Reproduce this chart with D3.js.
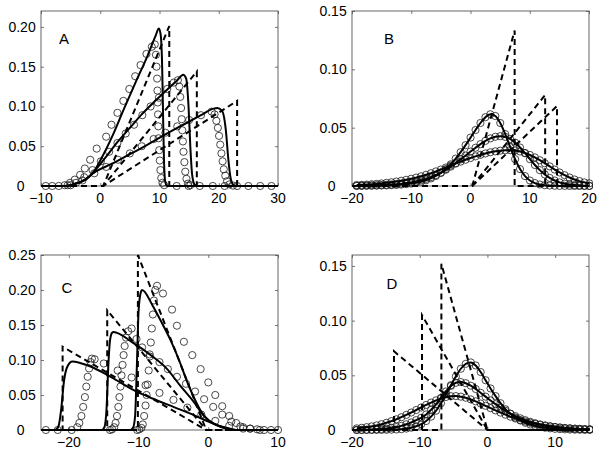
<!DOCTYPE html>
<html><head><meta charset="utf-8">
<script src="https://cdn.jsdelivr.net/npm/d3@7"></script>
<style>body{margin:0;background:#fff} svg{display:block} text{font-family:"Liberation Sans",Arial,sans-serif;fill:#000}</style>
</head><body><svg id="c" width="601" height="454"></svg>
<script>
// ---------- Panel A ----------
const aXTicks = [-10, 0, 10, 20, 30];
const aYTicks = [0, 0.05, 0.10, 0.15, 0.20];
const aSolid1 = [[-10,0],[-6,0],[-4.5,0.002],[-3,0.006],[-2,0.011],[-1.2,0.017],[0,0.032],[2,0.062],[4,0.097],[6,0.131],[8,0.164],[9.3,0.188],[9.9,0.198],[10.2,0.19],[10.45,0.15],[10.6,0.09],[10.75,0.035],[10.95,0.006],[11.3,0],[30,0]];
const aSolid2 = [[-10,0],[-6,0],[-4.5,0.002],[-3,0.006],[-2,0.011],[-1.2,0.017],[1,0.037],[3,0.056],[5,0.073],[7,0.09],[9,0.105],[11,0.119],[13,0.133],[14,0.14],[14.5,0.135],[14.9,0.1],[15.2,0.05],[15.5,0.015],[15.9,0.002],[16.3,0],[30,0]];
const aSolid3 = [[-10,0],[-6,0],[-4.5,0.002],[-3,0.006],[-2,0.011],[-1.2,0.016],[2,0.028],[5,0.04],[8,0.052],[11,0.065],[14,0.077],[17,0.089],[19,0.097],[19.8,0.098],[20.6,0.094],[21.2,0.07],[21.6,0.035],[22,0.01],[22.5,0.001],[23,0],[30,0]];
const aDash1 = [[-10,0],[0.5,0],[11.65,0.201],[11.65,0],[30,0]];
const aDash2 = [[-10,0],[0.5,0],[16.3,0.144],[16.3,0],[30,0]];
const aDash3 = [[-10,0],[0.5,0],[23.1,0.107],[23.1,0],[30,0]];
const aCirc1 = [[-9.2,0],[-8.1,0],[-7,0],[-6,0.001],[-5.1,0.004],[-4.3,0.008],[-3.4,0.014],[-2.6,0.022],[-1.7,0.033],[-0.6,0.047],[1,0.062],[1.9,0.077],[2.9,0.092],[3.9,0.107],[4.9,0.122],[5.9,0.138],[6.8,0.152],[7.8,0.166],[8.7,0.175],[9.2,0.178],[9.4,0.165],[9.5,0.15],[9.6,0.135],[9.65,0.12],[9.7,0.105],[9.75,0.09],[9.8,0.075],[9.85,0.06],[9.95,0.045],[10.05,0.032],[10.15,0.02],[10.3,0.01],[10.5,0.004],[10.8,0.001],[12.9,0],[14.9,0],[16.8,0],[19,0],[21,0],[23.1,0],[25,0],[27,0],[28.9,0]];
const aCirc2 = [[-5.5,0.001],[-4.1,0.004],[-2.7,0.011],[-1.3,0.02],[0.1,0.031],[1.5,0.043],[2.9,0.054],[4.3,0.066],[5.7,0.077],[7.1,0.089],[8.5,0.1],[9.9,0.111],[11.3,0.122],[12.4,0.13],[13.1,0.133],[13.35,0.125],[13.5,0.112],[13.65,0.098],[13.75,0.084],[13.85,0.07],[13.95,0.056],[14.05,0.043],[14.2,0.03],[14.35,0.018],[14.55,0.009],[14.8,0.003],[15.2,0.001]];
const aCirc3 = [[-5,0.001],[-3,0.007],[-1,0.016],[1,0.024],[3,0.033],[5,0.041],[7,0.05],[9,0.059],[11,0.067],[13,0.075],[15,0.083],[17,0.089],[18.8,0.0935],[19.3,0.09],[19.6,0.082],[19.85,0.073],[20.05,0.063],[20.25,0.052],[20.45,0.041],[20.65,0.031],[20.85,0.021],[21.1,0.013],[21.4,0.006],[21.8,0.002],[22.4,0.0005]];

// ---------- Panel B ----------
const bXTicks = [-20, -10, 0, 10, 20];
const bYTicks = [0, 0.05, 0.10, 0.15];
const bX = [-19.2,-18.37,-17.53,-16.7,-15.86,-15.03,-14.19,-13.36,-12.52,-11.69,-10.85,-10.02,-9.18,-8.34,-7.51,-6.67,-5.84,-5.0,-4.17,-3.33,-2.5,-1.66,-0.83,0.01,0.85,1.68,2.52,3.35,4.19,5.02,5.86,6.69,7.53,8.36,9.2,10.03,10.87,11.7,12.54,13.37,14.21,15.04,15.88,16.71,17.55,18.38,19.22,20.05];
const bY1 = [0.0001,0.0001,0.0002,0.0002,0.0003,0.0004,0.0005,0.0007,0.0009,0.0012,0.0016,0.0021,0.0028,0.0037,0.0049,0.0065,0.0086,0.0112,0.0145,0.0186,0.0235,0.029,0.035,0.0415,0.048,0.054,0.059,0.0615,0.06,0.054,0.0445,0.0335,0.023,0.0145,0.0085,0.0047,0.0025,0.0013,0.0007,0.0004,0.0002,0.0001,0.0001,0,0,0,0,0];
const bY2 = [0.0002,0.0003,0.0004,0.0005,0.0006,0.0008,0.001,0.0013,0.0016,0.002,0.0025,0.0031,0.0039,0.0049,0.0061,0.0076,0.0094,0.0115,0.0139,0.0166,0.0196,0.0228,0.0261,0.0295,0.0328,0.0359,0.0387,0.0408,0.0422,0.0427,0.0421,0.0403,0.0372,0.033,0.0281,0.023,0.018,0.0136,0.0099,0.0069,0.0047,0.0031,0.002,0.0013,0.0008,0.0005,0.0003,0.0002];
const bY3 = [0.0008,0.001,0.0012,0.0015,0.0018,0.0022,0.0027,0.0032,0.0038,0.0045,0.0053,0.0062,0.0072,0.0083,0.0096,0.011,0.0125,0.0141,0.0158,0.0175,0.0192,0.0209,0.0225,0.024,0.0254,0.0267,0.0279,0.0289,0.0297,0.0303,0.0306,0.0307,0.0304,0.0296,0.0283,0.0266,0.0245,0.0221,0.0195,0.0168,0.0141,0.0116,0.0093,0.0073,0.0056,0.0042,0.0031,0.0023];
const bDash1 = [[-20,0],[0.3,0],[7.45,0.1333],[7.45,0],[20,0]];
const bDash2 = [[-20,0],[0.3,0],[12.6,0.078],[12.6,0],[20,0]];
const bDash3 = [[-20,0],[0.3,0],[14.6,0.0685],[14.6,0],[20,0]];

// ---------- Panel C ----------
const cXTicks = [-20, -10, 0, 10];
const cYTicks = [0, 0.05, 0.10, 0.15, 0.20, 0.25];
const cSolid1 = [[-24,0],[-11.2,0],[-10.8,0.003],[-10.5,0.02],[-10.25,0.09],[-10.0,0.17],[-9.7,0.196],[-9.5,0.2],[-8,0.178],[-6.5,0.15],[-5.4,0.128],[-4.2,0.1],[-3,0.068],[-2,0.045],[-1,0.026],[0,0.014],[1,0.008],[2,0.004],[3,0.0015],[4,0],[10,0]];
const cSolid2 = [[-24,0],[-15.3,0],[-14.9,0.004],[-14.6,0.03],[-14.35,0.09],[-14.1,0.128],[-13.8,0.139],[-13.6,0.14],[-11,0.126],[-8,0.105],[-6,0.088],[-4,0.063],[-2,0.039],[-0.7,0.021],[1,0.008],[2,0.004],[3,0.0015],[4,0],[10,0]];
const cSolid3 = [[-24,0],[-22,0],[-21.5,0.005],[-21.1,0.03],[-20.7,0.07],[-20.2,0.091],[-19.5,0.098],[-17,0.091],[-14,0.076],[-10.7,0.057],[-8,0.045],[-5,0.033],[-2,0.021],[0,0.012],[1.5,0.006],[3,0.002],[4,0],[10,0]];
const cDash1 = [[-24,0],[-10.1,0],[-10.1,0.25],[-0.3,0],[10,0]];
const cDash2 = [[-24,0],[-14.5,0],[-14.5,0.171],[-0.3,0],[10,0]];
const cDash3 = [[-24,0],[-20.9,0],[-20.9,0.119],[-0.3,0],[10,0]];
const cCirc1 = [[-10.2,0],[-9.9,0.001],[-9.6,0.003],[-9.4,0.008],[-9.2,0.02],[-9.0,0.035],[-8.85,0.05],[-8.7,0.065],[-8.55,0.085],[-8.4,0.105],[-8.25,0.125],[-8.1,0.145],[-7.95,0.165],[-7.8,0.185],[-7.6,0.2],[-7.35,0.206],[-6.5,0.195],[-5.2,0.172],[-4.5,0.149],[-3.5,0.126],[-2.3,0.107],[-1.1,0.087],[0,0.068],[1,0.05],[2,0.034],[3,0.02],[4,0.01],[5,0.004],[6,0.002],[7,0.001],[8,0],[9,0],[10,0]];
const cCirc2 = [[-14.1,0],[-13.8,0.001],[-13.5,0.004],[-13.3,0.01],[-13.1,0.02],[-12.9,0.033],[-12.75,0.047],[-12.6,0.062],[-12.45,0.078],[-12.3,0.093],[-12.15,0.107],[-12.0,0.12],[-11.8,0.132],[-11.5,0.141],[-11.0,0.145],[-10.3,0.13],[-9.5,0.118],[-8.4,0.108],[-7,0.097],[-5.8,0.087],[-4.5,0.076],[-3.2,0.066],[-1.9,0.055],[-0.6,0.044],[0.7,0.033],[2,0.022],[3.3,0.012],[4.6,0.005],[6,0.002],[7.4,0]];
const cCirc3 = [[-23.3,0],[-21.6,0],[-19.6,0],[-18.8,0.004],[-18.5,0.01],[-18.2,0.02],[-17.95,0.033],[-17.7,0.047],[-17.5,0.062],[-17.3,0.076],[-17.1,0.088],[-16.9,0.097],[-16.7,0.102],[-16.3,0.101],[-15,0.095],[-13,0.085],[-11,0.075],[-9,0.064],[-7,0.053],[-5,0.043],[-3,0.032],[-1,0.022],[1,0.013],[3,0.006],[5,0.002]];

// ---------- Panel D ----------
const dXTicks = [-20, -10, 0, 10];
const dYTicks = [0, 0.05, 0.10, 0.15];
const dX = [-19.3,-18.57,-17.84,-17.1,-16.37,-15.64,-14.91,-14.18,-13.44,-12.71,-11.98,-11.25,-10.52,-9.78,-9.05,-8.32,-7.59,-6.86,-6.12,-5.39,-4.66,-3.93,-3.2,-2.46,-1.73,-1.0,-0.27,0.46,1.2,1.93,2.66,3.39,4.12,4.86,5.59,6.32,7.05,7.78,8.52,9.25,9.98,10.71,11.44,12.18,12.91,13.64,14.37,15.1];
const dY1 = [0,0,0,0,0.0001,0.0001,0.0002,0.0003,0.0005,0.0008,0.0013,0.0021,0.0034,0.0053,0.0082,0.0122,0.0176,0.0245,0.0325,0.041,0.049,0.056,0.0605,0.0618,0.059,0.053,0.0455,0.038,0.031,0.0245,0.019,0.0148,0.0114,0.0087,0.0066,0.005,0.0038,0.0028,0.0021,0.0015,0.0011,0.0008,0.0006,0.0004,0.0003,0.0002,0.0001,0.0001];
const dY2 = [0.0001,0.0002,0.0003,0.0004,0.0006,0.0009,0.0013,0.0019,0.0027,0.0038,0.0052,0.0069,0.009,0.0112,0.0142,0.0185,0.0235,0.0293,0.0352,0.0403,0.0432,0.0438,0.0428,0.0405,0.0375,0.034,0.0305,0.027,0.0236,0.0205,0.0176,0.015,0.0127,0.0107,0.009,0.0075,0.0062,0.0051,0.0042,0.0034,0.0028,0.0023,0.0018,0.0015,0.0012,0.001,0.0008,0.0006];
const dY3 = [0.0015,0.002,0.0026,0.0033,0.0042,0.0053,0.0066,0.0081,0.0098,0.0117,0.0138,0.016,0.0183,0.0206,0.0229,0.0251,0.0271,0.0289,0.0302,0.0309,0.031,0.0305,0.0295,0.028,0.0262,0.0242,0.0221,0.02,0.0179,0.0159,0.014,0.0122,0.0106,0.0091,0.0078,0.0066,0.0056,0.0047,0.0039,0.0033,0.0027,0.0022,0.0018,0.0015,0.0012,0.001,0.0008,0.0006];
const dDash1 = [[-20,0],[-6.8,0],[-6.8,0.152],[0,0],[15,0]];
const dDash2 = [[-20,0],[-9.66,0],[-9.66,0.105],[0,0],[15,0]];
const dDash3 = [[-20,0],[-13.8,0],[-13.8,0.072],[0,0],[15,0]];

// ---------- build ----------
const zip = (xs, ys) => xs.map((x, i) => [x, ys[i]]);
const bS = [zip(bX, bY1), zip(bX, bY2), zip(bX, bY3)];
const dS = [zip(dX, dY1), zip(dX, dY2), zip(dX, dY3)];

const panels = [
  {name:"A", box:[41,11,278,186], xd:[-10,30], yd:[0,0.22], xt:aXTicks, yt:aYTicks,
   circles:[aCirc1,aCirc2,aCirc3], solids:[aSolid1,aSolid2,aSolid3], dashes:[aDash1,aDash2,aDash3], lab:[64,44]},
  {name:"B", box:[352,11,589,186], xd:[-20,20], yd:[0,0.15], xt:bXTicks, yt:bYTicks,
   circles:bS, solids:bS, dashes:[bDash1,bDash2,bDash3], lab:[389,44]},
  {name:"C", box:[41,255,278,430], xd:[-24,10], yd:[0,0.25], xt:cXTicks, yt:cYTicks,
   circles:[cCirc1,cCirc2,cCirc3], solids:[cSolid1,cSolid2,cSolid3], dashes:[cDash1,cDash2,cDash3], lab:[67,293]},
  {name:"D", box:[352,255,589,430], xd:[-20,15], yd:[0,0.16], xt:dXTicks, yt:dYTicks,
   circles:dS, solids:dS, dashes:[dDash1,dDash2,dDash3], lab:[392,289]}
];

const svg = d3.select("#c");
const fmtY = v => v === 0 ? "0" : d3.format(".2f")(v);
const fmtX = v => (v < 0 ? "\u2212" + Math.abs(v) : String(v));

panels.forEach((p, pi) => {
  const [l, t, r, b] = p.box;
  const x = d3.scaleLinear().domain(p.xd).range([l, r]);
  const y = d3.scaleLinear().domain(p.yd).range([b, t]);
  const g = svg.append("g");
  const clipId = "clip" + pi;
  g.append("clipPath").attr("id", clipId).append("rect")
    .attr("x", l - 4).attr("y", t - 1).attr("width", r - l + 8).attr("height", b - t + 5);

  const axB = d3.axisBottom(x).tickValues(p.xt).tickSize(-3).tickFormat("");
  const axT = d3.axisTop(x).tickValues(p.xt).tickSize(-3).tickFormat("");
  const axL = d3.axisLeft(y).tickValues(p.yt).tickSize(-3).tickFormat("");
  const axR = d3.axisRight(y).tickValues(p.yt).tickSize(-3).tickFormat("");
  [[axB, `translate(0,${b})`], [axT, `translate(0,${t})`], [axL, `translate(${l},0)`], [axR, `translate(${r},0)`]]
    .forEach(([ax, tr]) => {
      const a = g.append("g").attr("transform", tr).call(ax);
      a.select(".domain").remove();
      a.selectAll("line").attr("stroke", "#555").attr("stroke-width", 0.8);
    });
  g.append("rect").attr("x", l).attr("y", t).attr("width", r - l).attr("height", b - t)
    .attr("fill", "none").attr("stroke", "#555").attr("stroke-width", 0.9);

  g.selectAll(".xl").data(p.xt).enter().append("text")
    .attr("x", d => x(d)).attr("y", b + 17).attr("text-anchor", "middle")
    .attr("font-size", 14).text(fmtX);
  g.selectAll(".yl").data(p.yt).enter().append("text")
    .attr("x", d => d === 0 ? l - 20.3 : l - 5.3).attr("y", d => y(d) + 5)
    .attr("text-anchor", d => d === 0 ? "middle" : "end")
    .attr("font-size", 14).text(fmtY);

  const plot = g.append("g").attr("clip-path", `url(#${clipId})`);
  p.circles.forEach(s => {
    plot.selectAll(null).data(s).enter().append("circle")
      .attr("cx", d => x(d[0])).attr("cy", d => y(d[1])).attr("r", 3.6)
      .attr("fill", "none").attr("stroke", "#1a1a1a").attr("stroke-width", 0.8);
  });
  const lineS = d3.line().x(d => x(d[0])).y(d => y(d[1])).curve(d3.curveMonotoneX);
  const lineD = d3.line().x(d => x(d[0])).y(d => y(d[1]));
  p.solids.forEach(s => plot.append("path").attr("d", lineS(s)).attr("fill", "none")
    .attr("stroke", "#000").attr("stroke-width", 2).attr("stroke-linejoin", "round"));
  p.dashes.forEach(s => plot.append("path").attr("d", lineD(s)).attr("fill", "none")
    .attr("stroke", "#000").attr("stroke-width", 2).attr("stroke-dasharray", "6,4"));

  g.append("text").attr("x", p.lab[0]).attr("y", p.lab[1]).attr("text-anchor", "middle")
    .attr("font-size", 15).text(p.name);
});
</script></body></html>
